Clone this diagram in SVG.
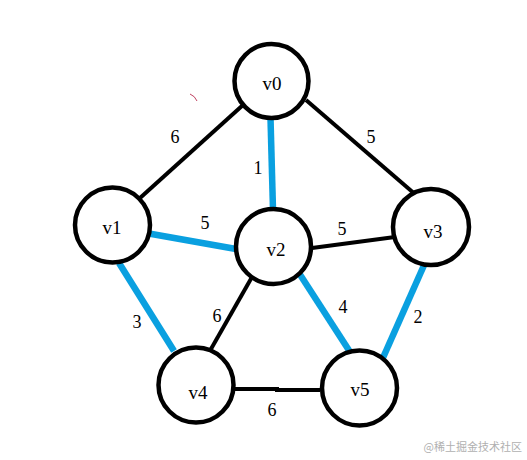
<svg xmlns="http://www.w3.org/2000/svg" width="527" height="460" viewBox="0 0 527 460">
<style>
.n{fill:#fff;stroke:#000;stroke-width:4.5}
.t{font-family:"Liberation Serif",serif;font-size:19px;fill:#000;text-anchor:middle;dominant-baseline:central}
.w{font-family:"Liberation Serif",serif;font-size:18px;fill:#000;text-anchor:middle;dominant-baseline:central}
.k{stroke:#000;stroke-width:4;fill:none;stroke-linecap:butt}
.b{stroke:#0aa0e0;stroke-width:6.5;fill:none;stroke-linecap:butt}
</style>
<rect width="527" height="460" fill="#fff"/>
<path d="M190 94 Q195 96 197 101" stroke="#c04060" stroke-width="1" fill="none"/>
<g id="edges">
<line class="k" x1="243" y1="105" x2="140" y2="198"/>
<line class="b" x1="270.5" y1="118" x2="273" y2="210"/>
<line class="k" x1="306" y1="100" x2="416" y2="195"/>
<line class="b" x1="146" y1="233" x2="236" y2="249"/>
<line class="k" x1="312" y1="248" x2="395" y2="237"/>
<line class="b" x1="119" y1="263" x2="174" y2="351"/>
<line class="k" x1="252" y1="277" x2="211" y2="349"/>
<line class="b" x1="299" y1="273" x2="352" y2="355"/>
<line class="b" x1="425" y1="263" x2="382" y2="360"/>
<polyline class="k" points="235,389 277,389 277,390 320,390"/>
<text class="w" x="175" y="137">6</text>
<text class="w" x="258" y="168">1</text>
<text class="w" x="371" y="137">5</text>
<text class="w" x="205" y="223">5</text>
<text class="w" x="342" y="229">5</text>
<text class="w" x="137" y="322">3</text>
<text class="w" x="217" y="316">6</text>
<text class="w" x="343" y="307">4</text>
<text class="w" x="418" y="317">2</text>
<text class="w" x="272" y="410">6</text>
</g>
<g id="v0"><circle class="n" cx="271.5" cy="81" r="37"/><text class="t" x="272" y="83">v0</text></g>
<g id="v1"><circle class="n" cx="112.5" cy="225" r="37.5"/><text class="t" x="112" y="227">v1</text></g>
<g id="v2"><circle class="n" cx="273.5" cy="246.5" r="37.5"/><text class="t" x="276" y="249">v2</text></g>
<g id="v3"><circle class="n" cx="431" cy="227" r="38"/><text class="t" x="433" y="231">v3</text></g>
<g id="v4"><circle class="n" cx="196" cy="385" r="37.5"/><text class="t" x="198" y="392">v4</text></g>
<g id="v5"><circle class="n" cx="359.5" cy="388" r="37.5"/><text class="t" x="360" y="389">v5</text></g>
<text x="522" y="451" font-family="'Noto Sans CJK SC',sans-serif" font-size="11" fill="#b0b0b0" text-anchor="end">@稀土掘金技术社区</text>
</svg>
